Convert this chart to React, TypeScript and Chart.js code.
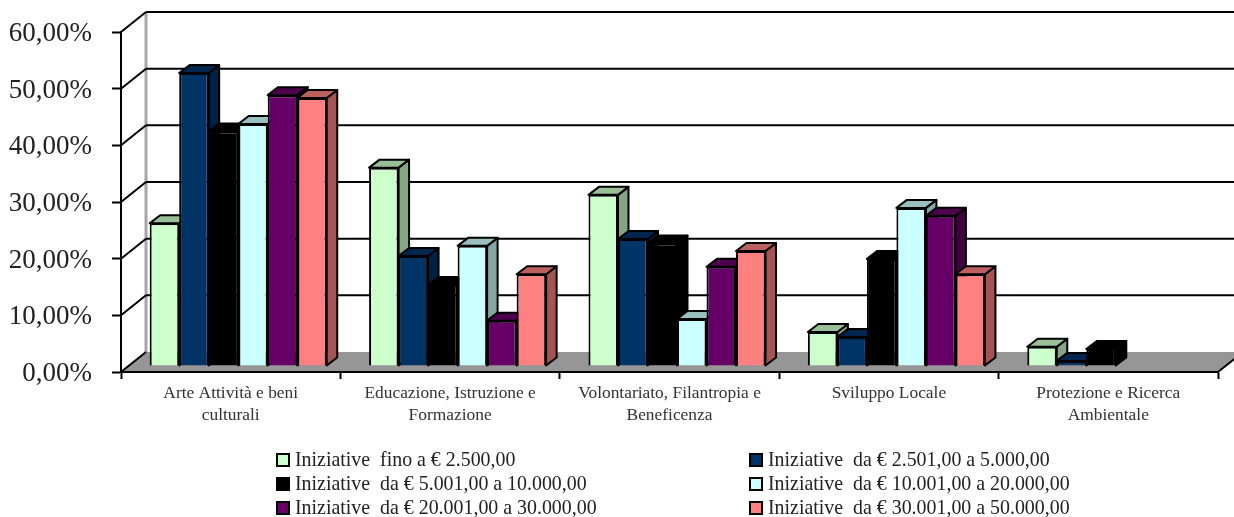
import React, { useEffect, useRef } from "react";
import { Chart, registerables } from "chart.js";

Chart.register(...registerables);

const categories: (string | string[])[] = [
  ["Arte Attività e beni", "culturali"],
  ["Educazione, Istruzione e", "Formazione"],
  ["Volontariato, Filantropia e", "Beneficenza"],
  "Sviluppo Locale",
  ["Protezione e Ricerca", "Ambientale"],
];

const fino2500 = [25.2, 35.0, 30.2, 6.0, 3.4];
const da2501 = [51.7, 19.4, 22.4, 5.1, 0.9];
const da5001 = [41.4, 14.3, 21.6, 18.9, 3.0];
const da10001 = [42.7, 21.2, 8.3, 27.9, 0];
const da20001 = [47.8, 8.0, 17.5, 26.5, 0];
const da30001 = [47.3, 16.2, 20.3, 16.2, 0];

const seriesLabels = [
  "Iniziative  fino a € 2.500,00",
  "Iniziative  da € 2.501,00 a 5.000,00",
  "Iniziative  da € 5.001,00 a 10.000,00",
  "Iniziative  da € 10.001,00 a 20.000,00",
  "Iniziative  da € 20.001,00 a 30.000,00",
  "Iniziative  da € 30.001,00 a 50.000,00",
];
const seriesValues = [fino2500, da2501, da5001, da10001, da20001, da30001];
const seriesColors = ["#CCFFCC", "#003366", "#000000", "#CCFFFF", "#660066", "#FF8080"];

const SERIF = '"Liberation Serif", serif';
const WALL = { dx: 25, dy: -20 };
const BAR_SHIFT = { dx: 7.5, dy: -6 };
const BAR_DEPTH = { dx: 10.5, dy: -8 };

function shade(hex: string, k: number) {
  const n = parseInt(hex.slice(1), 16);
  const c = [(n >> 16) & 255, (n >> 8) & 255, n & 255].map((v) => Math.round(v * k));
  return `rgb(${c[0]},${c[1]},${c[2]})`;
}

function poly(ctx: CanvasRenderingContext2D, pts: number[][], fill: string | null, stroke: string | null, lw = 2) {
  ctx.beginPath();
  pts.forEach(([x, y], i) => (i ? ctx.lineTo(x, y) : ctx.moveTo(x, y)));
  if (fill) {
    ctx.closePath();
    ctx.fillStyle = fill;
    ctx.fill();
  }
  if (stroke) {
    ctx.strokeStyle = stroke;
    ctx.lineWidth = lw;
    ctx.lineJoin = "round";
    ctx.stroke();
  }
}

// Floor, back wall and side wall of the 3D box, placed from the chart's scales.
const boxPlugin = {
  id: "box3d",
  beforeDraw(chart: any) {
    const { ctx, chartArea: a, scales } = chart;
    const y = scales.y;
    const zero = y.getPixelForValue(0);
    ctx.save();
    poly(
      ctx,
      [
        [a.left, zero],
        [a.left + WALL.dx, zero + WALL.dy],
        [a.right + WALL.dx, zero + WALL.dy],
        [a.right, zero],
      ],
      "#969696",
      null
    );
    poly(ctx, [[a.left + WALL.dx, a.top + WALL.dy], [a.left + WALL.dx, zero + WALL.dy]], null, "#A6A6A6", 3);
    y.ticks.forEach((t: any) => {
      const py = y.getPixelForValue(t.value);
      poly(ctx, [[a.left, py], [a.left + WALL.dx, py + WALL.dy]], null, "#000", 2);
      if (t.value !== 0) {
        poly(ctx, [[a.left + WALL.dx, py + WALL.dy], [a.right + WALL.dx, py + WALL.dy]], null, "#000", 2);
      }
    });
    poly(ctx, [[a.right, zero], [a.right + WALL.dx, zero + WALL.dy]], null, "#000", 2);
    ctx.restore();
  },
  // Series are painted left to right so each column covers its neighbour's side face.
  beforeDatasetsDraw(chart: any) {
    const { ctx } = chart;
    chart.getSortedVisibleDatasetMetas().forEach((meta: any) => {
      const index = meta.index;
      const color = seriesColors[index];
      ctx.save();
      ctx.translate(BAR_SHIFT.dx, BAR_SHIFT.dy);
      meta.data.forEach((bar: any, i: number) => {
        if (!seriesValues[index][i]) return;
        const l = bar.x - bar.width / 2;
        const r = bar.x + bar.width / 2;
        const t = bar.y;
        const b = bar.base;
        const { dx, dy } = BAR_DEPTH;
        poly(ctx, [[r, t], [r + dx, t + dy], [r + dx, b + dy], [r, b]], shade(color, 0.65), "#000", 2);
        poly(ctx, [[l, t], [l + dx, t + dy], [r + dx, t + dy], [r, t]], shade(color, 0.75), "#000", 2);
      });
      meta.controller.draw();
      ctx.restore();
    });
    return false;
  },
  afterDraw(chart: any) {
    const { ctx } = chart;
    const columns = [277, 750];
    const rows = [460, 484, 508];
    ctx.save();
    ctx.font = `19.9px ${SERIF}`;
    ctx.textBaseline = "middle";
    chart.data.datasets.forEach((ds: any, i: number) => {
      const x = columns[i % 2];
      const y = rows[Math.floor(i / 2)];
      ctx.fillStyle = ds.backgroundColor;
      ctx.strokeStyle = "#000";
      ctx.lineWidth = 2;
      ctx.fillRect(x, y - 6, 12, 12);
      ctx.strokeRect(x, y - 6, 12, 12);
      ctx.fillStyle = "#222";
      ctx.fillText(ds.label, x + 18, y + 1);
    });
    ctx.restore();
  },
};

export default function App() {
  const ref = useRef<HTMLCanvasElement>(null);

  useEffect(() => {
    const chart = new Chart(ref.current!, {
      type: "bar",
      data: {
        labels: categories,
        datasets: seriesValues.map((data, i) => ({
          label: seriesLabels[i],
          data,
          backgroundColor: seriesColors[i],
          borderColor: "#000",
          borderWidth: data.map((v) => (v ? 2 : 0)),
          barPercentage: 1,
          categoryPercentage: 0.807,
        })),
      } as any,
      options: {
        responsive: false,
        animation: false,
        layout: { padding: { left: 0, top: 32, right: 16, bottom: 0 } },
        plugins: { legend: { display: false }, tooltip: { enabled: false }, title: { display: false } },
        scales: {
          x: {
            afterFit(s: any) {
              s.height = 145;
              s.paddingLeft = 0;
              s.paddingRight = 0;
            },
            border: { color: "#000", width: 2 },
            grid: { drawOnChartArea: false, tickLength: 7, tickColor: "#000", tickWidth: 2 },
            ticks: {
              color: "#333",
              padding: 3,
              maxRotation: 0,
              autoSkip: false,
              font: { family: SERIF, size: 17.4, lineHeight: 1.27 },
            },
          },
          y: {
            min: 0,
            max: 60,
            afterFit(s: any) {
              s.width = 121;
              s.paddingTop = 0;
              s.paddingBottom = 0;
            },
            border: { color: "#000", width: 2 },
            grid: { drawOnChartArea: false, tickLength: 9, tickColor: "#000", tickWidth: 2 },
            ticks: {
              stepSize: 10,
              color: "#222",
              padding: 20,
              labelOffset: 2,
              font: { family: SERIF, size: 27 },
              callback: (v: any) => `${Number(v).toFixed(2).replace(".", ",")}%`,
            },
          },
        },
      } as any,
      plugins: [boxPlugin],
    });
    return () => chart.destroy();
  }, []);

  return (
    <div style={{ position: "fixed", left: 0, top: 0 }}>
      <canvas ref={ref} width={1234} height={517} style={{ display: "block" }} />
    </div>
  );
}
